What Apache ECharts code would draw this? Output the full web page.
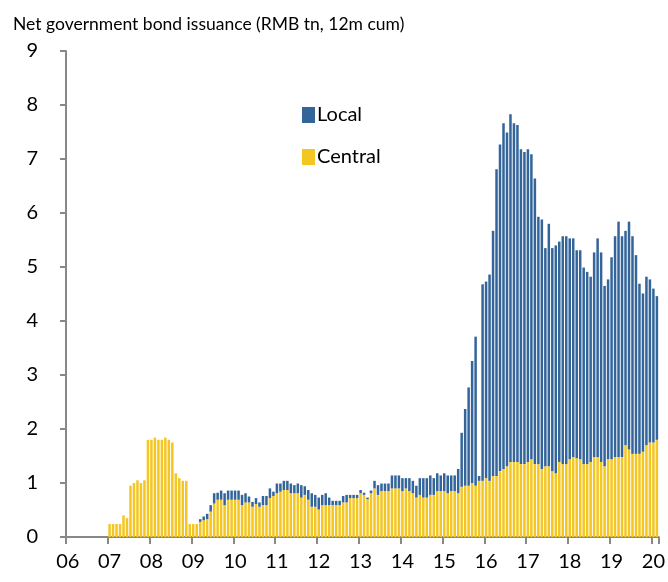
<!DOCTYPE html>
<html>
<head>
<meta charset="utf-8">
<script src="https://cdn.jsdelivr.net/npm/echarts@6/dist/echarts.min.js"></script>
<style>html,body{margin:0;padding:0;background:#fff}#c{width:668px;height:582px}</style>
</head>
<body>
<div id="c"></div>
<script>
// Monthly categories Jan 2006 .. Feb 2020
const years = ['06','07','08','09','10','11','12','13','14','15','16','17','18','19','20'];
const central2006 = [0,0,0,0,0,0,0,0,0,0,0,0];
const local2006   = [0,0,0,0,0,0,0,0,0,0,0,0];
const central2007 = [0.24,0.24,0.24,0.24,0.40,0.35,0.95,1.00,1.05,1.00,1.05,1.80];
const local2007   = [0,0,0,0,0,0,0,0,0,0,0,0];
const central2008 = [1.80,1.84,1.80,1.80,1.84,1.80,1.75,1.18,1.09,1.04,1.04,0.24];
const local2008   = [0,0,0,0,0,0,0,0,0,0,0,0];
const central2009 = [0.24,0.24,0.28,0.31,0.33,0.47,0.62,0.69,0.69,0.59,0.69,0.69];
const local2009   = [0,0,0.05,0.07,0.10,0.12,0.19,0.13,0.17,0.22,0.17,0.17];
const central2010 = [0.69,0.69,0.59,0.64,0.64,0.56,0.61,0.56,0.59,0.59,0.72,0.76];
const local2010   = [0.17,0.17,0.19,0.17,0.11,0.09,0.11,0.08,0.17,0.17,0.18,0.08];
const central2011 = [0.81,0.84,0.87,0.87,0.81,0.81,0.81,0.73,0.78,0.69,0.56,0.56];
const local2011   = [0.18,0.15,0.17,0.17,0.18,0.15,0.18,0.23,0.16,0.18,0.25,0.22];
const central2012 = [0.51,0.59,0.59,0.59,0.59,0.59,0.59,0.64,0.64,0.72,0.72,0.72];
const local2012   = [0.22,0.19,0.22,0.14,0.08,0.08,0.08,0.12,0.14,0.06,0.06,0.06];
const central2013 = [0.81,0.78,0.70,0.81,0.90,0.78,0.85,0.85,0.85,0.90,0.90,0.90];
const local2013   = [0.06,0.04,0.03,0.05,0.14,0.18,0.14,0.14,0.14,0.24,0.24,0.24];
const central2014 = [0.85,0.90,0.85,0.81,0.73,0.78,0.73,0.73,0.78,0.78,0.85,0.85];
const local2014   = [0.24,0.19,0.24,0.23,0.22,0.31,0.36,0.36,0.36,0.31,0.33,0.29];
const central2015 = [0.85,0.81,0.85,0.85,0.81,0.93,0.95,0.95,1.00,0.95,1.04,1.04];
const local2015   = [0.33,0.33,0.29,0.29,0.45,1.00,1.42,1.82,2.26,2.76,0.09,3.64];
const central2016 = [1.09,1.04,1.13,1.13,1.22,1.26,1.31,1.39,1.39,1.39,1.35,1.35];
const local2016   = [3.64,3.82,4.54,5.68,6.05,6.40,6.18,6.44,6.27,6.24,5.83,5.78];
const central2017 = [1.39,1.44,1.35,1.35,1.26,1.31,1.31,1.22,1.18,1.39,1.35,1.35];
const local2017   = [5.79,5.65,5.29,4.58,4.62,4.04,4.49,4.13,4.22,4.08,4.22,4.22];
const central2018 = [1.44,1.48,1.46,1.44,1.35,1.35,1.39,1.48,1.48,1.39,1.31,1.44];
const local2018   = [4.09,4.05,3.85,3.87,3.64,3.56,3.43,3.79,4.05,3.88,3.34,3.33];
const central2019 = [1.44,1.48,1.48,1.48,1.70,1.62,1.54,1.54,1.54,1.58,1.70,1.75];
const local2019   = [3.74,4.09,4.36,4.09,3.97,4.22,4.03,3.68,3.15,2.93,3.12,3.02];
const central2020 = [1.75,1.80];
const local2020   = [2.85,2.66];

const centralAll = [].concat(central2006,central2007,central2008,central2009,central2010,central2011,central2012,central2013,central2014,central2015,central2016,central2017,central2018,central2019,central2020);
const localAll = [].concat(local2006,local2007,local2008,local2009,local2010,local2011,local2012,local2013,local2014,local2015,local2016,local2017,local2018,local2019,local2020);
const months = [];
for (let y = 0; y < years.length; y++) {
  for (let m = 1; m <= 12; m++) {
    if (months.length >= centralAll.length) break;
    months.push(years[y] + '-' + (m < 10 ? '0' + m : m));
  }
}

const chart = echarts.init(document.getElementById('c'), null, {renderer: 'canvas'});
const FONT = 'Lato';
chart.setOption({
  animation: false,
  backgroundColor: '#ffffff',
  title: {
    text: 'Net government bond issuance (RMB tn, 12m cum)',
    left: 8, top: 10,
    textStyle: {fontFamily: FONT, fontSize: 17.5, fontWeight: 'normal', color: '#000'}
  },
  legend: {
    orient: 'vertical',
    left: 297, top: 100,
    itemWidth: 13, itemHeight: 16, itemGap: 22,
    textStyle: {fontFamily: FONT, fontSize: 20, color: '#000', padding: [0,0,0,-3]},
    data: [{name: 'Local', icon: 'rect'}, {name: 'Central', icon: 'rect'}]
  },
  grid: {left: 66, right: 8, top: 51, bottom: 45},
  xAxis: {
    type: 'category',
    data: months,
    axisLine: {lineStyle: {color: '#888', width: 2}},
    axisTick: {
      show: true,
      alignWithLabel: false,
      interval: function (i) { return i % 12 === 0; },
      length: 7,
      lineStyle: {color: '#888', width: 2}
    },
    axisLabel: {
      interval: function (i) { return i % 12 === 0; },
      formatter: function (v) { return v.slice(0, 2); },
      fontFamily: FONT, fontSize: 20, color: '#000', margin: 15
    }
  },
  yAxis: {
    type: 'value',
    min: 0, max: 9, interval: 1,
    splitLine: {show: false},
    axisLine: {show: true, lineStyle: {color: '#888', width: 2}},
    axisTick: {show: true, length: 6, lineStyle: {color: '#888', width: 2}},
    axisLabel: {fontFamily: FONT, fontSize: 20, color: '#000', margin: 28}
  },
  series: [
    {name: 'Central', type: 'bar', stack: 'total', data: centralAll,
     barCategoryGap: '28%', itemStyle: {color: '#F4C623'}},
    {name: 'Local', type: 'bar', stack: 'total', data: localAll,
     barCategoryGap: '28%', itemStyle: {color: '#34659A'}}
  ]
});
</script>
</body>
</html>
